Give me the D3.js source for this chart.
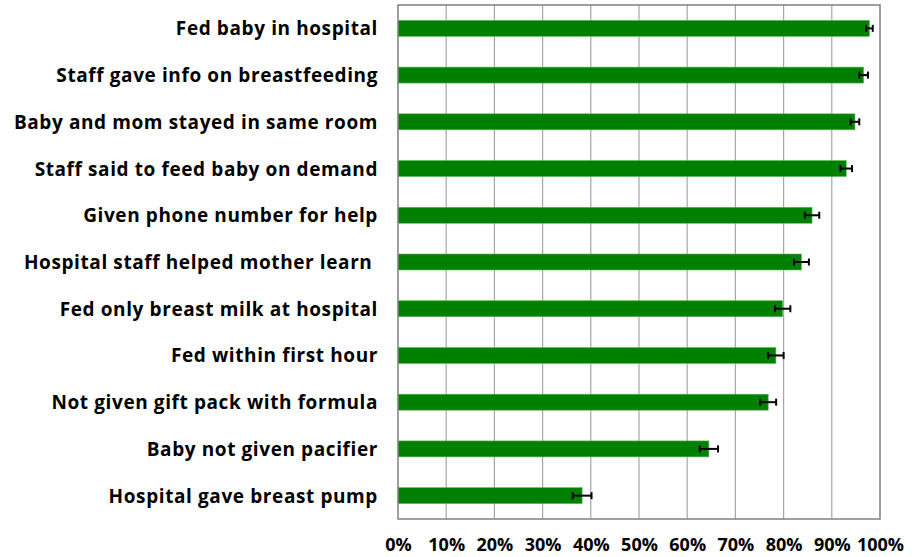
<!DOCTYPE html>
<html>
<head>
<meta charset="utf-8">
<script src="https://cdn.jsdelivr.net/npm/d3@7"></script>
<style>
  html, body { margin: 0; padding: 0; background: #fff; }
  svg { display: block; }
  text { font-family: "Open Sans", Lato, sans-serif; font-weight: bold; fill: #000; }
</style>
</head>
<body>
<svg id="chart" width="921" height="557"></svg>
<script>
const categories = [
  "Fed baby in hospital",
  "Staff gave info on breastfeeding",
  "Baby and mom stayed in same room",
  "Staff said to feed baby on demand",
  "Given phone number for help",
  "Hospital staff helped mother learn ",
  "Fed only breast milk at hospital",
  "Fed within first hour",
  "Not given gift pack with formula",
  "Baby not given pacifier",
  "Hospital gave breast pump"
];
const values = [97.8, 96.6, 94.8, 93.0, 85.9, 83.7, 79.8, 78.4, 76.8, 64.5, 38.2];
const errors = [0.7, 0.9, 0.9, 1.2, 1.5, 1.55, 1.6, 1.6, 1.65, 1.9, 1.95];
const tickValues = [0, 10, 20, 30, 40, 50, 60, 70, 80, 90, 100];
const tickLabels = ["0%", "10%", "20%", "30%", "40%", "50%", "60%", "70%", "80%", "90%", "100%"];

const svg = d3.select("#chart");
const pLeft = 398, pRight = 880, pTop = 5, pBottom = 519;

const x = d3.scaleLinear().domain([0, 100]).range([pLeft, pRight]);
const y = d3.scaleBand().domain(categories).range([pTop, pBottom]).paddingInner(0.658).paddingOuter(0.329);

// gridlines
svg.append("g").selectAll("line").data(tickValues.slice(1, -1)).join("line")
  .attr("x1", d => x(d)).attr("x2", d => x(d))
  .attr("y1", pTop).attr("y2", pBottom)
  .attr("stroke", "#a6a6a6").attr("stroke-width", 1.2);

// bars
svg.append("g").selectAll("rect").data(values).join("rect")
  .attr("x", x(0))
  .attr("y", (d, i) => y(categories[i]))
  .attr("width", d => x(d) - x(0))
  .attr("height", y.bandwidth())
  .attr("fill", "#008000")
  .attr("stroke", "#5cb85c").attr("stroke-width", 0.6);

// error bars
const eg = svg.append("g").attr("stroke", "#000");
values.forEach((v, i) => {
  const cy = y(categories[i]) + y.bandwidth() / 2;
  const e = errors[i];
  eg.append("line").attr("x1", x(v - e)).attr("x2", x(v + e)).attr("y1", cy).attr("y2", cy).attr("stroke-width", 2);
  eg.append("line").attr("x1", x(v - e)).attr("x2", x(v - e)).attr("y1", cy - 3.5).attr("y2", cy + 3.5).attr("stroke-width", 2);
  eg.append("line").attr("x1", x(v + e)).attr("x2", x(v + e)).attr("y1", cy - 3.5).attr("y2", cy + 3.5).attr("stroke-width", 2);
});

// plot border
svg.append("rect").attr("x", pLeft).attr("y", pTop).attr("width", pRight - pLeft).attr("height", pBottom - pTop)
  .attr("fill", "none").attr("stroke", "#808080").attr("stroke-width", 1.5);

// category labels
svg.append("g").selectAll("text").data(categories).join("text")
  .attr("x", 378)
  .attr("y", d => y(d) + y.bandwidth() / 2)
  .attr("text-anchor", "end")
  .attr("dominant-baseline", "central")
  .style("white-space", "pre")
  .style("font-size", "19px")
  .style("letter-spacing", "0.6px")
  .text(d => d);

// x tick labels
const xAxis = d3.axisBottom(x).tickValues(tickValues).tickFormat((d, i) => tickLabels[i]).tickSize(0).tickPadding(0);
const ax = svg.append("g").attr("transform", `translate(0,${pBottom + 19})`).call(xAxis);
ax.select(".domain").remove();
ax.selectAll("text").style("font-size", "18px").style("font-family", "'Open Sans', Lato, sans-serif").style("font-weight", "bold").attr("fill", "#000");
</script>
</body>
</html>
